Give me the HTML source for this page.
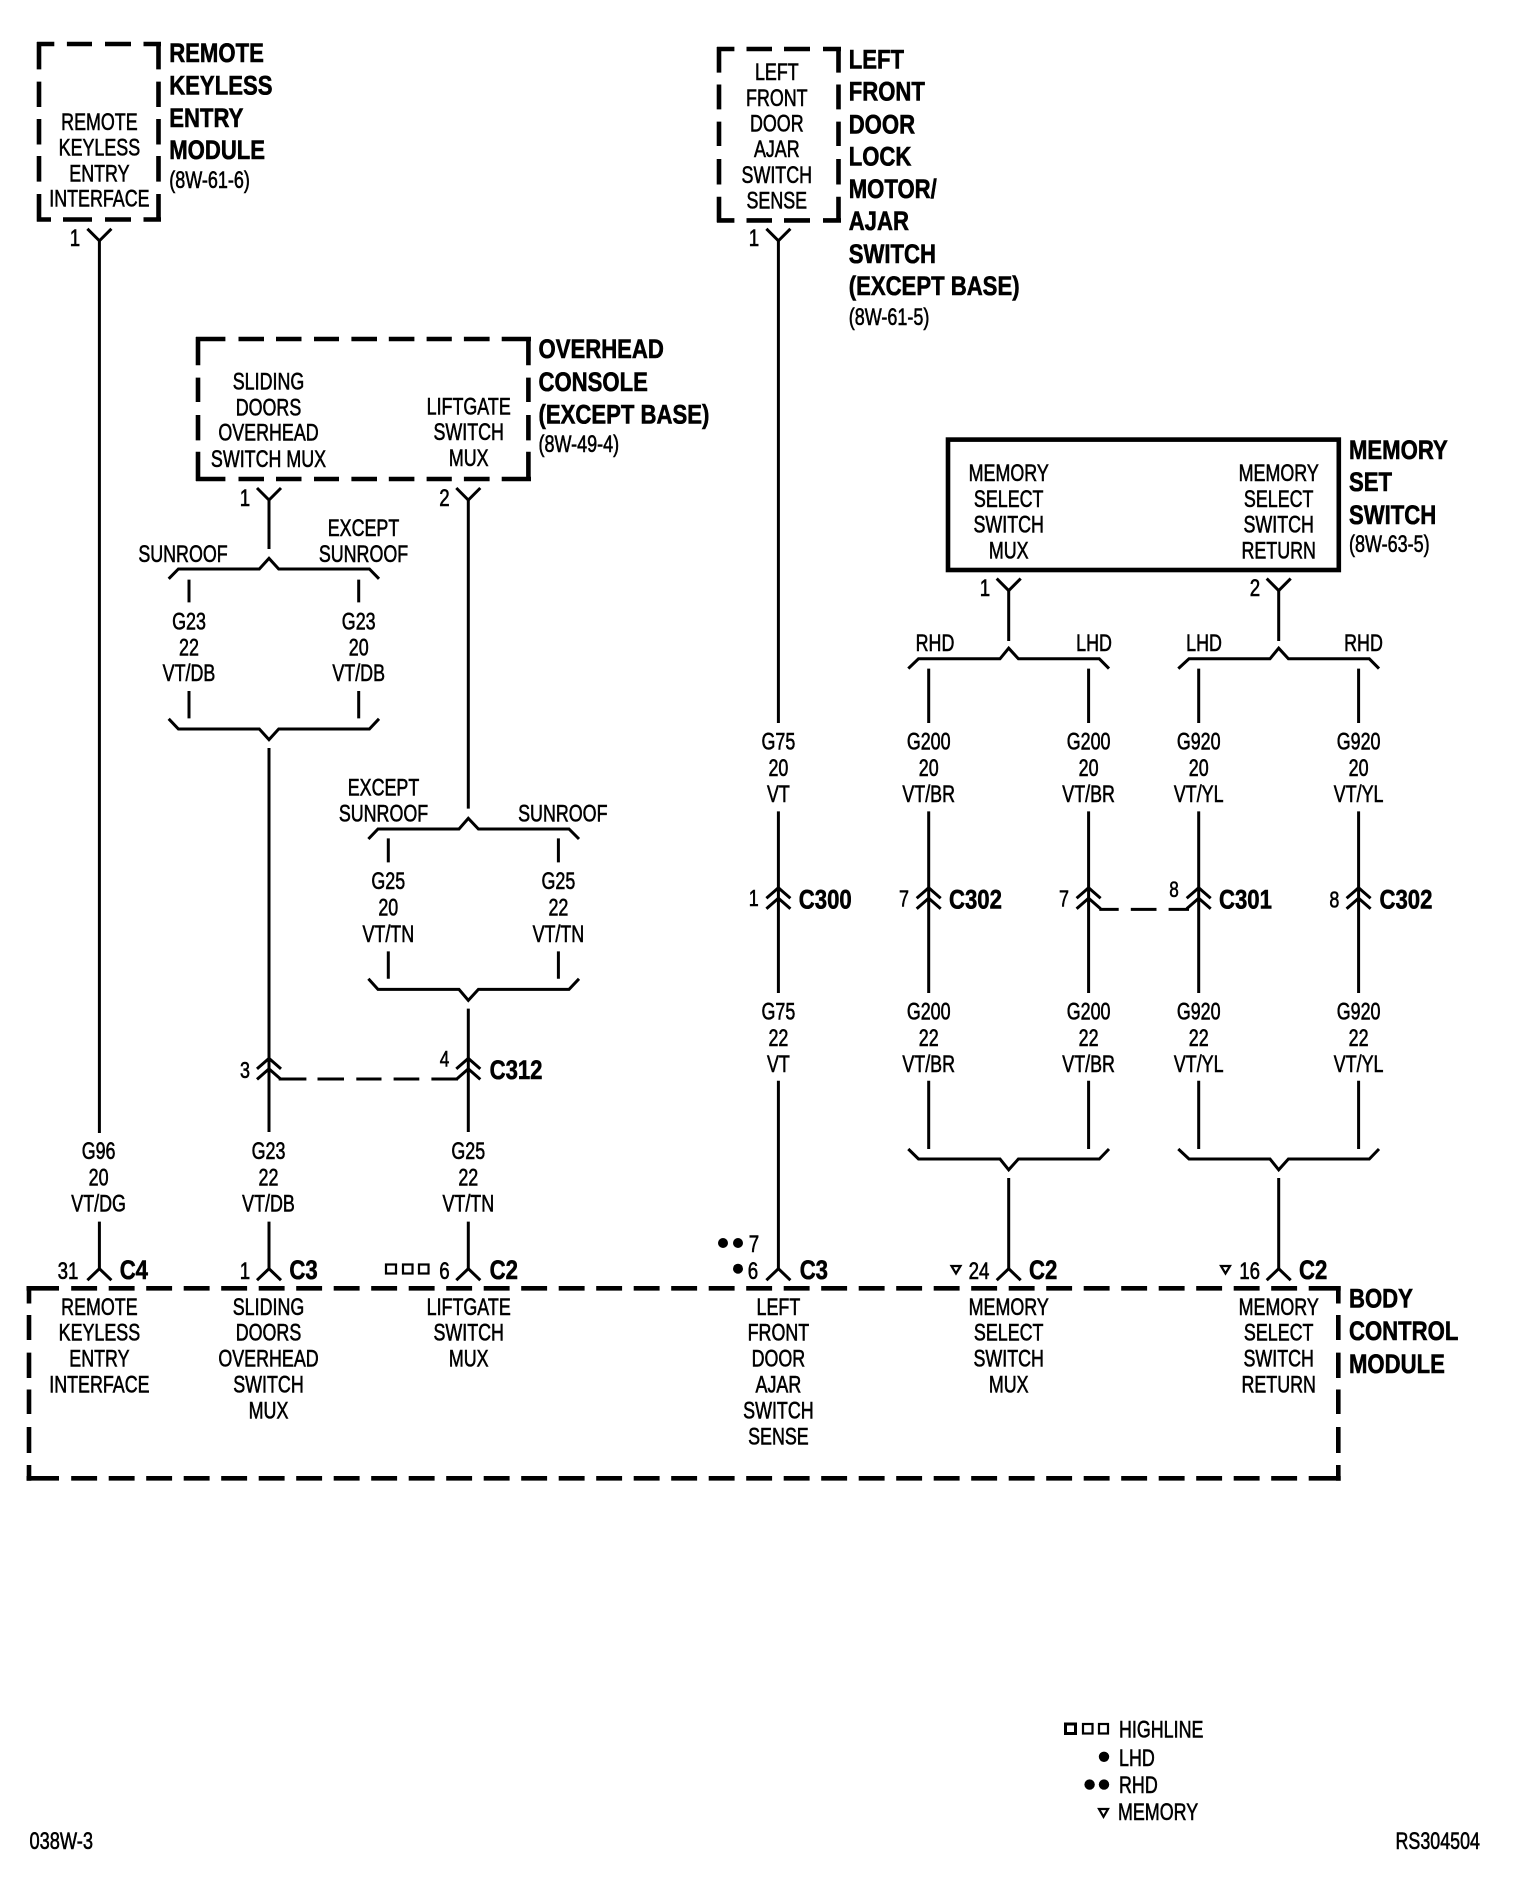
<!DOCTYPE html>
<html>
<head>
<meta charset="utf-8">
<style>
html,body{margin:0;padding:0;background:#fff}
svg{display:block}
text{font-family:"Liberation Sans",sans-serif;fill:#000}
.r text,text.r{font-size:24px;stroke:#000;stroke-width:.6px}
.c text{text-anchor:middle}
.b text,text.b{font-size:27px;font-weight:bold;stroke:#000;stroke-width:.6px}
.w{fill:none;stroke:#000;stroke-width:3}
.x{fill:none;stroke:#000;stroke-width:4.6}
</style>
</head>
<body>
<svg width="1520" height="1882" viewBox="0 0 1520 1882" xmlns="http://www.w3.org/2000/svg">
<defs>
<path id="y" class="w" d="M-12 -12L0 0L12 -12"/>
<path id="a" class="w" d="M-12 11.5L0 0L12 11.5"/>
<path id="d" class="w" d="M-12 10.5L0 0L12 10.5M-12 21L0 10.5L12 21"/>
</defs>
<rect width="1520" height="1882" fill="#fff"/>

<!-- boxes -->
<path class="x" d="M37 44H54.3M66.9 44H92M105 44H131M143.5 44H161M37 219.5H51M63 219.5H92M105 219.5H131M143.5 219.5H161M39 42V69.4M39 81.6V107M39 119V144.5M39 156V181.6M39 194V221.6M158.5 42V69.4M158.5 81.6V107M158.5 119V144.5M158.5 156V181.6M158.5 194V221.6"/>
<path class="x" d="M717 49H734.4M746.5 49H772M784 49H810M823 49H841M717 220.4H734.4M746.5 220.4H772M784 220.4H810M823 220.4H841M719 47V72.6M719 84.5V109.4M719 121.6V146M719 159V184.5M719 196.7V222.4M838.5 47V72.6M838.5 84.5V109.4M838.5 121.6V146M838.5 159V184.5M838.5 196.7V222.4"/>
<path class="x" d="M196 339H225.4M238.5 339H264M276 339H301.5M314 339H339M351.4 339H377M388.8 339H414.4M426.6 339H451.8M463.9 339H489.6M501.7 339H531M196 479H225.4M238.5 479H264M276 479H301.5M314 479H339M351.4 479H377M388.8 479H414.4M426.6 479H451.8M463.9 479H489.6M501.7 479H531M198 337V365.3M198 377.6V402M198 415V440.4M198 451.8V481M528.4 337V365.3M528.4 377.6V402M528.4 415V440.4M528.4 451.8V481"/>
<rect x="948" y="439.6" width="390.8" height="130.4" class="x"/>
<path class="x" d="M26.5 1288.3H59M26.5 1478.3H59M1308.7 1288.3H1340.7M1308.7 1478.3H1340.7"/>
<path class="x" stroke-dasharray="25.9 11.6" d="M71.2 1288.3H1308M71.2 1478.3H1308"/>
<path class="x" d="M29 1286V1303.5M29 1315V1340M29 1352.6V1378M29 1389.5V1414M29 1427V1453M29 1465V1480.8M1338.3 1286V1303.5M1338.3 1315V1340M1338.3 1352.6V1378M1338.3 1389.5V1414M1338.3 1427V1453M1338.3 1465V1480.8"/>

<!-- wires -->
<path class="w" d="M99.4 240V1133M99.4 1221.6V1268.7
M269 499V549M189 579.6V602.4M358.7 579.6V602.4M189 691V718.4M358.7 691V718.4M269 748V1132M269 1221.6V1268.7
M468.3 499V808.6M388.3 838.4V862.4M558.4 838.4V862.4M388.3 951.4V978.8M558.4 951.4V978.8M468.3 1008.6V1132M468.3 1221.6V1268.7
M778.4 240V723M778.4 811.4V993M778.4 1080.8V1268.7
M1008.7 590V641M1278.7 590V641
M928.7 668.6V723M1088.6 668.6V723M1198.7 668.6V723M1358.6 668.6V723
M928.7 811.4V993M1088.6 811.4V993M1198.7 811.4V993M1358.6 811.4V993
M928.7 1080.8V1149M1088.6 1080.8V1149M1198.7 1080.8V1149M1358.6 1080.8V1149
M1008.7 1178V1268.7M1278.7 1178V1268.7"/>
<path class="w" d="M278.7 1079H306.4M317.5 1079H344M356.3 1079H381.5M393.6 1079H419.3M431.4 1079H458"/>
<path class="w" d="M1099.3 909.4H1118.7M1130.8 909.4H1156.5M1168.6 909.4H1189"/>

<!-- braces -->
<path class="w" d="M168.7 578.8L178.4 569H259.3L269 558.4L278.7 569H369.4L379 578.8"/>
<path class="w" d="M168.7 718.8L178.4 729H259.3L269 739.6L278.7 729H369.4L379 718.8"/>
<path class="w" d="M368.4 839L378 829H459L468.3 818.4L478.4 829H569L579 839"/>
<path class="w" d="M368.4 978.8L378 989.4H459L468.3 1000.4L478.4 989.4H569L579 978.8"/>
<path class="w" d="M908.3 668.6L918.5 658.8H1000L1008.7 648.2L1018.4 658.8H1099.3L1109 668.6"/>
<path class="w" d="M1178.3 668.6L1189 658.8H1270L1278.7 648.2L1288.4 658.8H1369.3L1379 668.6"/>
<path class="w" d="M908.3 1149L918.5 1159H1000L1008.7 1169.8L1018.4 1159H1099.3L1109 1149"/>
<path class="w" d="M1178.3 1149L1189 1159H1270L1278.7 1169.8L1288.4 1159H1369.3L1379 1149"/>

<!-- connectors -->
<use href="#y" x="99.4" y="240.8"/><use href="#y" x="778.4" y="240.8"/>
<use href="#y" x="269" y="500"/><use href="#y" x="468.3" y="500"/>
<use href="#y" x="1008.7" y="590.6"/><use href="#y" x="1278.7" y="590.6"/>
<use href="#d" x="269" y="1058.4"/><use href="#d" x="468.3" y="1058.4"/>
<use href="#d" x="778.4" y="887.8"/><use href="#d" x="928.7" y="887.8"/><use href="#d" x="1088.6" y="887.8"/><use href="#d" x="1198.7" y="887.8"/><use href="#d" x="1358.6" y="887.8"/>
<use href="#a" x="99.4" y="1268.7"/><use href="#a" x="269" y="1268.7"/><use href="#a" x="468.3" y="1268.7"/><use href="#a" x="778.4" y="1268.7"/><use href="#a" x="1008.7" y="1268.7"/><use href="#a" x="1278.7" y="1268.7"/>

<!-- symbols -->
<g fill="none" stroke="#000" stroke-width="2.2">
<rect x="386" y="1264.5" width="10" height="9"/><rect x="403" y="1264.5" width="9.5" height="9"/><rect x="419" y="1264.5" width="9.5" height="9"/>
<rect x="1083" y="1724" width="9.5" height="9.5"/><rect x="1099" y="1724" width="9" height="9.5"/>
<path d="M951.5 1266H960.5L956 1273.5Z"/><path d="M1221 1266H1230L1225.5 1273.5Z"/><path d="M1099 1809H1108L1103.5 1816.8Z"/>
</g>
<rect x="1065.5" y="1724" width="10" height="9.5" fill="none" stroke="#000" stroke-width="3"/>
<circle cx="723" cy="1243" r="5"/><circle cx="738" cy="1243" r="5"/><circle cx="738" cy="1268.7" r="5"/>
<circle cx="1104" cy="1756.8" r="5.2"/><circle cx="1089.6" cy="1784.6" r="5.2"/><circle cx="1104" cy="1784.6" r="5.2"/>

<!-- component text, centred columns -->
<g class="r c">
<g transform="translate(99.4,0) scale(.745,1)"><text y="130">REMOTE</text><text y="155.4">KEYLESS</text><text y="181.3">ENTRY</text><text y="206.7">INTERFACE</text>
<text y="1315">REMOTE</text><text y="1340.7">KEYLESS</text><text y="1366.5">ENTRY</text><text y="1392.3">INTERFACE</text></g>
<g transform="translate(776.8,0) scale(.745,1)"><text y="80">LEFT</text><text y="106">FRONT</text><text y="131.5">DOOR</text><text y="157.2">AJAR</text><text y="183">SWITCH</text><text y="208.6">SENSE</text></g>
<g transform="translate(778.4,0) scale(.745,1)"><text y="1315">LEFT</text><text y="1340.7">FRONT</text><text y="1366.5">DOOR</text><text y="1392.3">AJAR</text><text y="1418.5">SWITCH</text><text y="1444.7">SENSE</text></g>
<g transform="translate(268.5,0) scale(.745,1)"><text y="389.5">SLIDING</text><text y="415.5">DOORS</text><text y="440.5">OVERHEAD</text><text y="467">SWITCH MUX</text>
<text y="1315">SLIDING</text><text y="1340.7">DOORS</text><text y="1366.5">OVERHEAD</text><text y="1392.3">SWITCH</text><text y="1418.5">MUX</text></g>
<g transform="translate(468.7,0) scale(.745,1)"><text y="414.7">LIFTGATE</text><text y="440">SWITCH</text><text y="466">MUX</text>
<text y="1315">LIFTGATE</text><text y="1340.7">SWITCH</text><text y="1366.5">MUX</text></g>
<g transform="translate(1008.7,0) scale(.745,1)"><text y="480.8">MEMORY</text><text y="507">SELECT</text><text y="532.7">SWITCH</text><text y="558.4">MUX</text>
<text y="1315">MEMORY</text><text y="1340.7">SELECT</text><text y="1366.5">SWITCH</text><text y="1392.3">MUX</text></g>
<g transform="translate(1278.7,0) scale(.745,1)"><text y="480.8">MEMORY</text><text y="507">SELECT</text><text y="532.7">SWITCH</text><text y="558.4">RETURN</text>
<text y="1315">MEMORY</text><text y="1340.7">SELECT</text><text y="1366.5">SWITCH</text><text y="1392.3">RETURN</text></g>

<!-- wire labels -->
<g transform="translate(189,0) scale(.745,1)"><text y="629.4">G23</text><text y="655.5">22</text><text y="680.8">VT/DB</text></g>
<g transform="translate(358.7,0) scale(.745,1)"><text y="629.4">G23</text><text y="655.5">20</text><text y="680.8">VT/DB</text></g>
<g transform="translate(388.3,0) scale(.745,1)"><text y="889">G25</text><text y="915.5">20</text><text y="942">VT/TN</text></g>
<g transform="translate(558.4,0) scale(.745,1)"><text y="889">G25</text><text y="915.5">22</text><text y="942">VT/TN</text></g>
<g transform="translate(98.6,0) scale(.745,1)"><text y="1159">G96</text><text y="1185.7">20</text><text y="1211.4">VT/DG</text></g>
<g transform="translate(268.5,0) scale(.745,1)"><text y="1159">G23</text><text y="1185.7">22</text><text y="1211.4">VT/DB</text></g>
<g transform="translate(468.3,0) scale(.745,1)"><text y="1159">G25</text><text y="1185.7">22</text><text y="1211.4">VT/TN</text></g>
<g transform="translate(778.4,0) scale(.745,1)"><text y="749.4">G75</text><text y="776">20</text><text y="802">VT</text><text y="1019.6">G75</text><text y="1046">22</text><text y="1072">VT</text></g>
<g transform="translate(928.7,0) scale(.745,1)"><text y="749.4">G200</text><text y="776">20</text><text y="802">VT/BR</text><text y="1019.6">G200</text><text y="1046">22</text><text y="1072">VT/BR</text></g>
<g transform="translate(1088.6,0) scale(.745,1)"><text y="749.4">G200</text><text y="776">20</text><text y="802">VT/BR</text><text y="1019.6">G200</text><text y="1046">22</text><text y="1072">VT/BR</text></g>
<g transform="translate(1198.7,0) scale(.745,1)"><text y="749.4">G920</text><text y="776">20</text><text y="802">VT/YL</text><text y="1019.6">G920</text><text y="1046">22</text><text y="1072">VT/YL</text></g>
<g transform="translate(1358.6,0) scale(.745,1)"><text y="749.4">G920</text><text y="776">20</text><text y="802">VT/YL</text><text y="1019.6">G920</text><text y="1046">22</text><text y="1072">VT/YL</text></g>

<!-- option labels -->
<g transform="translate(183,0) scale(.745,1)"><text y="562">SUNROOF</text></g>
<g transform="translate(363.5,0) scale(.745,1)"><text y="536">EXCEPT</text><text y="562">SUNROOF</text></g>
<g transform="translate(383.5,0) scale(.745,1)"><text y="795.5">EXCEPT</text><text y="821.6">SUNROOF</text></g>
<g transform="translate(562.8,0) scale(.745,1)"><text y="821.6">SUNROOF</text></g>
<g transform="translate(935,0) scale(.745,1)"><text y="651">RHD</text></g>
<g transform="translate(1094,0) scale(.745,1)"><text y="651">LHD</text></g>
<g transform="translate(1204,0) scale(.745,1)"><text y="651">LHD</text></g>
<g transform="translate(1363.5,0) scale(.745,1)"><text y="651">RHD</text></g>

<!-- pin numbers -->
<text transform="translate(75,246) scale(.78,1)">1</text>
<text transform="translate(754,246) scale(.78,1)">1</text>
<text transform="translate(245,506) scale(.78,1)">1</text>
<text transform="translate(444.5,506) scale(.78,1)">2</text>
<text transform="translate(985,596) scale(.78,1)">1</text>
<text transform="translate(1255,596) scale(.78,1)">2</text>
<text transform="translate(245,1078) scale(.78,1)" style="font-size:23px">3</text>
<text transform="translate(444.5,1066.5) scale(.78,1)" style="font-size:22px">4</text>
<text transform="translate(753.7,906) scale(.78,1)" style="font-size:23px">1</text>
<text transform="translate(904,906.5) scale(.78,1)" style="font-size:23px">7</text>
<text transform="translate(1064,906.5) scale(.78,1)" style="font-size:23px">7</text>
<text transform="translate(1174,897) scale(.78,1)" style="font-size:22px">8</text>
<text transform="translate(1334.4,907.5) scale(.78,1)" style="font-size:23px">8</text>
<text transform="translate(68,1279) scale(.78,1)">31</text>
<text transform="translate(245,1279) scale(.78,1)">1</text>
<text transform="translate(444.5,1279) scale(.78,1)">6</text>
<text transform="translate(754,1252) scale(.78,1)">7</text>
<text transform="translate(753,1279) scale(.78,1)">6</text>
<text transform="translate(979,1279) scale(.78,1)">24</text>
<text transform="translate(1249.6,1279) scale(.78,1)">16</text>
</g>

<!-- titles -->
<g class="b">
<g transform="translate(169.2,0) scale(.82,1)"><text y="62">REMOTE</text><text y="94.3">KEYLESS</text><text y="127">ENTRY</text><text y="159">MODULE</text></g>
<g transform="translate(848.7,0) scale(.82,1)"><text y="68.4">LEFT</text><text y="100.6">FRONT</text><text y="133.7">DOOR</text><text y="165.5">LOCK</text><text y="198">MOTOR/</text><text y="230">AJAR</text><text y="263">SWITCH</text><text y="295">(EXCEPT BASE)</text></g>
<g transform="translate(538.5,0) scale(.82,1)"><text y="358">OVERHEAD</text><text y="391">CONSOLE</text><text y="423.5">(EXCEPT BASE)</text></g>
<g transform="translate(1349,0) scale(.82,1)"><text y="459">MEMORY</text><text y="491">SET</text><text y="524">SWITCH</text>
<text y="1307.4">BODY</text><text y="1340">CONTROL</text><text y="1373">MODULE</text></g>
<text transform="translate(489.6,1078.8) scale(.82,1)">C312</text>
<text transform="translate(798.8,908.6) scale(.82,1)">C300</text>
<text transform="translate(949,908.6) scale(.82,1)">C302</text>
<text transform="translate(1219,908.6) scale(.82,1)">C301</text>
<text transform="translate(1379.5,908.6) scale(.82,1)">C302</text>
<text transform="translate(119.7,1279) scale(.82,1)">C4</text>
<text transform="translate(289.4,1279) scale(.82,1)">C3</text>
<text transform="translate(489.6,1279) scale(.82,1)">C2</text>
<text transform="translate(799.7,1279) scale(.82,1)">C3</text>
<text transform="translate(1029,1279) scale(.82,1)">C2</text>
<text transform="translate(1299,1279) scale(.82,1)">C2</text>
</g>

<!-- references & legend -->
<g class="r">
<text transform="translate(169.2,187.8) scale(.75,1)">(8W-61-6)</text>
<text transform="translate(848.7,325) scale(.75,1)">(8W-61-5)</text>
<text transform="translate(538.5,452) scale(.75,1)">(8W-49-4)</text>
<text transform="translate(1349,552) scale(.75,1)">(8W-63-5)</text>
<text transform="translate(1119,1737.5) scale(.745,1)">HIGHLINE</text>
<text transform="translate(1119,1766) scale(.745,1)">LHD</text>
<text transform="translate(1119,1792.8) scale(.745,1)">RHD</text>
<text transform="translate(1118,1820) scale(.745,1)">MEMORY</text>
<text transform="translate(29.5,1849) scale(.76,1)">038W-3</text>
<text transform="translate(1395.5,1849) scale(.745,1)">RS304504</text>
</g>
</svg>
</body>
</html>
